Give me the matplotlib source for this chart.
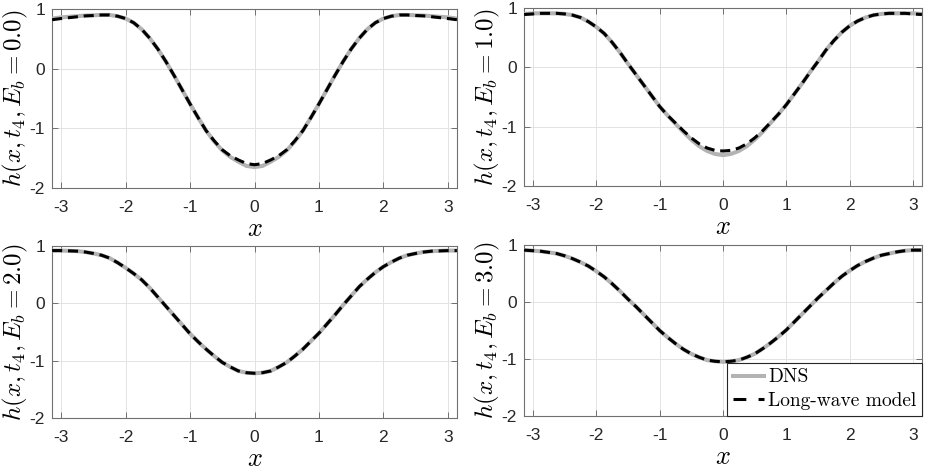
import matplotlib
matplotlib.use('Agg')
import matplotlib.pyplot as plt
from matplotlib.lines import Line2D

plt.rcParams['mathtext.fontset'] = 'cm'
plt.rcParams['axes.unicode_minus'] = False
plt.rcParams['font.family'] = ['Liberation Sans', 'DejaVu Sans']

# muestras en x
x = [-3.14, -3.0, -2.875, -2.75, -2.625, -2.5, -2.375, -2.25, -2.125, -2.0, -1.875, -1.75, -1.625,
     -1.5, -1.375, -1.25, -1.125, -1.0, -0.875, -0.75, -0.625, -0.5, -0.375, -0.25, -0.125,
     0.0,
     0.125, 0.25, 0.375, 0.5, 0.625, 0.75, 0.875, 1.0, 1.125, 1.25, 1.375, 1.5, 1.625,
     1.75, 1.875, 2.0, 2.125, 2.25, 2.375, 2.5, 2.625, 2.75, 2.875, 3.0, 3.14]

# Eb = 0.0
dns_0 = [0.84, 0.86, 0.87, 0.88, 0.89, 0.895, 0.90, 0.90, 0.88, 0.84, 0.77, 0.66, 0.51,
         0.33, 0.12, -0.11, -0.35, -0.59, -0.82, -1.04, -1.22, -1.37, -1.48, -1.56, -1.63,
         -1.65,
         -1.63, -1.56, -1.48, -1.37, -1.22, -1.04, -0.82, -0.59, -0.35, -0.11, 0.12, 0.33, 0.51,
         0.66, 0.77, 0.84, 0.88, 0.90, 0.90, 0.895, 0.89, 0.88, 0.87, 0.86, 0.84]
lw_0 = [0.82, 0.84, 0.855, 0.87, 0.885, 0.89, 0.90, 0.90, 0.88, 0.84, 0.77, 0.66, 0.51,
        0.33, 0.12, -0.11, -0.35, -0.59, -0.82, -1.04, -1.21, -1.36, -1.46, -1.53, -1.59,
        -1.61,
        -1.59, -1.53, -1.46, -1.36, -1.21, -1.04, -0.82, -0.59, -0.35, -0.11, 0.12, 0.33, 0.51,
        0.66, 0.77, 0.84, 0.88, 0.90, 0.90, 0.89, 0.885, 0.87, 0.855, 0.84, 0.82]

# Eb = 1.0
dns_1 = [0.90, 0.91, 0.91, 0.91, 0.91, 0.90, 0.88, 0.84, 0.77, 0.68, 0.57, 0.42, 0.25,
         0.06, -0.12, -0.30, -0.48, -0.66, -0.81, -0.95, -1.09, -1.22, -1.33, -1.41, -1.46,
         -1.48,
         -1.46, -1.41, -1.33, -1.22, -1.09, -0.94, -0.79, -0.63, -0.45, -0.27, -0.08, 0.10, 0.29,
         0.45, 0.59, 0.70, 0.78, 0.84, 0.88, 0.90, 0.91, 0.91, 0.91, 0.91, 0.90]
lw_1 = [0.89, 0.90, 0.91, 0.91, 0.91, 0.90, 0.88, 0.84, 0.77, 0.68, 0.57, 0.42, 0.25,
        0.06, -0.12, -0.30, -0.48, -0.66, -0.81, -0.94, -1.07, -1.19, -1.29, -1.36, -1.40,
        -1.41,
        -1.40, -1.36, -1.29, -1.19, -1.07, -0.93, -0.79, -0.63, -0.45, -0.27, -0.08, 0.10, 0.29,
        0.45, 0.59, 0.70, 0.78, 0.84, 0.88, 0.90, 0.91, 0.91, 0.91, 0.90, 0.89]

# Eb = 2.0 (DNS y modelo coinciden)
dns_2 = [0.92, 0.92, 0.915, 0.91, 0.895, 0.87, 0.84, 0.79, 0.71, 0.62, 0.52, 0.41, 0.27,
         0.11, -0.05, -0.21, -0.37, -0.53, -0.67, -0.80, -0.92, -1.03, -1.11, -1.18, -1.21,
         -1.22,
         -1.21, -1.18, -1.11, -1.03, -0.92, -0.80, -0.66, -0.52, -0.36, -0.20, -0.03, 0.13, 0.29,
         0.42, 0.54, 0.64, 0.72, 0.79, 0.84, 0.87, 0.895, 0.91, 0.915, 0.92, 0.92]
lw_2 = [0.92, 0.92, 0.915, 0.91, 0.895, 0.87, 0.84, 0.79, 0.71, 0.62, 0.52, 0.41, 0.27,
        0.11, -0.05, -0.21, -0.37, -0.53, -0.67, -0.80, -0.92, -1.03, -1.11, -1.18, -1.21,
        -1.22,
        -1.21, -1.18, -1.11, -1.03, -0.92, -0.80, -0.66, -0.52, -0.36, -0.20, -0.03, 0.13, 0.29,
        0.42, 0.54, 0.64, 0.72, 0.79, 0.84, 0.87, 0.895, 0.91, 0.915, 0.92, 0.92]

# Eb = 3.0
dns_3 = [0.91, 0.90, 0.89, 0.87, 0.85, 0.81, 0.76, 0.70, 0.63, 0.54, 0.44, 0.32, 0.19,
         0.05, -0.08, -0.22, -0.36, -0.50, -0.62, -0.73, -0.83, -0.91, -0.97, -1.02, -1.04,
         -1.05,
         -1.04, -1.02, -0.97, -0.91, -0.82, -0.72, -0.61, -0.49, -0.35, -0.21, -0.07, 0.07, 0.20,
         0.33, 0.45, 0.55, 0.64, 0.71, 0.77, 0.82, 0.85, 0.88, 0.90, 0.91, 0.91]
lw_3 = [0.91, 0.90, 0.89, 0.87, 0.85, 0.81, 0.76, 0.70, 0.63, 0.54, 0.44, 0.32, 0.19,
        0.05, -0.08, -0.22, -0.36, -0.50, -0.62, -0.73, -0.83, -0.91, -0.97, -1.02, -1.04,
        -1.05,
        -1.04, -1.02, -0.97, -0.91, -0.82, -0.72, -0.61, -0.49, -0.35, -0.21, -0.07, 0.07, 0.20,
        0.33, 0.45, 0.55, 0.64, 0.71, 0.77, 0.82, 0.85, 0.88, 0.90, 0.91, 0.91]

etiquetas = ['0.0', '1.0', '2.0', '3.0']
dns = [dns_0, dns_1, dns_2, dns_3]
modelo = [lw_0, lw_1, lw_2, lw_3]

W, H = 931, 472
fig = plt.figure(figsize=(W / 100, H / 100), dpi=100)

# (izq, der, arriba, abajo) en pixeles
cajas = [(52, 457, 9, 188), (524, 922, 8, 186), (52, 457, 246, 418), (524, 922, 245, 416)]

gris = '#b3b3b3'
borde = '#707070'
ejes = []
for k, (l, r, t, b) in enumerate(cajas):
    ax = fig.add_axes([l / W, 1 - b / H, (r - l) / W, (b - t) / H])
    ax.plot(x, dns[k], color=gris, lw=2.9, solid_capstyle='round', zorder=3)
    ax.plot(x, modelo[k], color='black', lw=2.2, dashes=(3.3, 1.9), zorder=4)
    ax.set_xlim(-3.1416, 3.1416)
    ax.set_ylim(-2, 1)
    ax.set_xticks([-3, -2, -1, 0, 1, 2, 3])
    ax.set_yticks([-2, -1, 0, 1])
    ax.grid(True, color='#e3e3e3', lw=0.7)
    ax.set_axisbelow(True)
    ax.tick_params(direction='in', length=4, width=0.7, color=borde, top=True, right=True,
                   labelsize=12.5, labelcolor='#262626')
    ax.tick_params(axis='x', pad=9)
    ax.tick_params(axis='y', pad=5)
    for s in ax.spines.values():
        s.set_color(borde)
        s.set_linewidth(0.8)
    ax.set_xlabel(r'$x$', fontsize=19, labelpad=1)
    ax.set_ylabel(r'$h(x,t_4,E_b=' + etiquetas[k] + ')$', fontsize=18, labelpad=0)
    ejes.append(ax)

h_dns = Line2D([], [], color=gris, lw=2.9)
h_lw = Line2D([], [], color='black', lw=2.2, dashes=(4.2, 4.0))
leg = ejes[3].legend([h_dns, h_lw], ['DNS', 'Long-wave model'], loc='lower right',
                     prop={'family': 'cmr10', 'size': 14}, fancybox=False, framealpha=1,
                     edgecolor='#262626', borderaxespad=0, handlelength=1.6,
                     handletextpad=0.2, borderpad=0.3, labelspacing=0.3)
leg.get_frame().set_linewidth(0.8)
leg.set_zorder(10)

fig.savefig('out.png', dpi=100)
